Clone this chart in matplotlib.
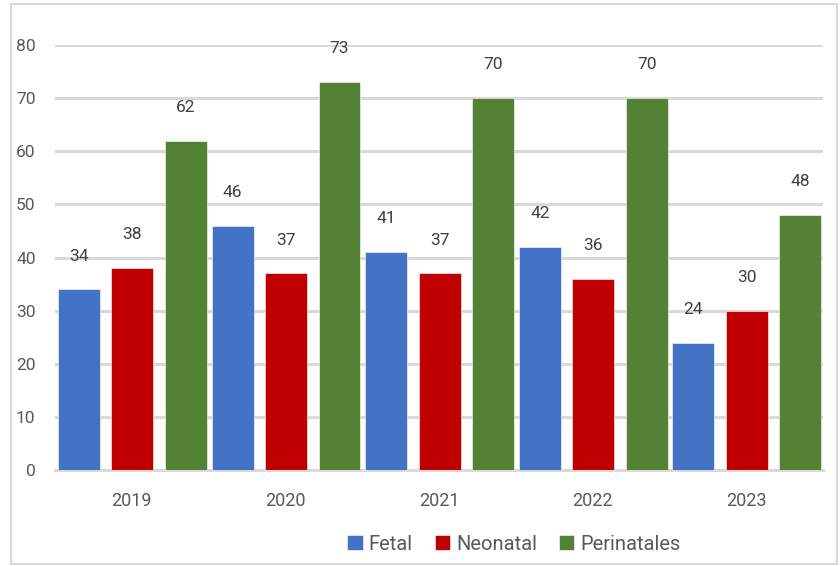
import matplotlib
matplotlib.use("Agg")
import matplotlib.pyplot as plt
import numpy as np
from matplotlib.patches import Rectangle

years = ["2019", "2020", "2021", "2022", "2023"]
fetal = [34, 46, 41, 42, 24]
neonatal = [38, 37, 37, 36, 30]
perinatales = [62, 73, 70, 70, 48]

series = [("Fetal", fetal, "#4472C4"),
          ("Neonatal", neonatal, "#C00000"),
          ("Perinatales", perinatales, "#548235")]

plt.rcParams['font.family'] = ['Roboto', 'DejaVu Sans']
txt = "#595959"

fig = plt.figure(figsize=(8.4, 5.66), dpi=100)
ax = fig.add_axes([55 / 840, 96 / 566, 768 / 840, 425 / 566])

x = np.arange(len(years))
step = 0.348
width = 0.273
for i, (name, vals, col) in enumerate(series):
    pos = x + (i - 1) * step + 0.004
    bars = ax.bar(pos, vals, width, color=col, label=name, zorder=3,
                  edgecolor="white", linewidth=0.4)
    for p, v in zip(pos, vals):
        ax.annotate(str(v), (p, v), xytext=(0, 24), textcoords="offset points",
                    ha="center", va="center", fontsize=12.5, color="#404040")

ax.set_xlim(-0.5, 4.5)
ax.set_ylim(0, 80)
ax.set_yticks(range(0, 81, 10))
ax.set_xticks(x)
ax.set_xticklabels(years)
ax.yaxis.grid(True, color="#D9D9D9", linewidth=2.2, zorder=0)
for s in ["top", "right", "left"]:
    ax.spines[s].set_visible(False)
ax.spines["bottom"].set_color("#D9D9D9")
ax.spines["bottom"].set_linewidth(2.2)
ax.tick_params(axis="y", length=0, pad=14, labelsize=12.5, labelcolor=txt)
ax.tick_params(axis="x", length=0, pad=16, labelsize=13, labelcolor=txt)

fig.legend(loc="center", bbox_to_anchor=(514 / 840, 22 / 566), ncol=3,
           frameon=False, fontsize=14.5, handlelength=0.75, handleheight=0.75,
           handletextpad=0.3, columnspacing=1.1, labelcolor=txt)

fig.patches.append(Rectangle((11 / 840, 2 / 566), 826 / 840, 560 / 566,
                             transform=fig.transFigure, fill=False,
                             edgecolor="#D9D9D9", linewidth=1.5))

fig.savefig("out.png", dpi=100)
